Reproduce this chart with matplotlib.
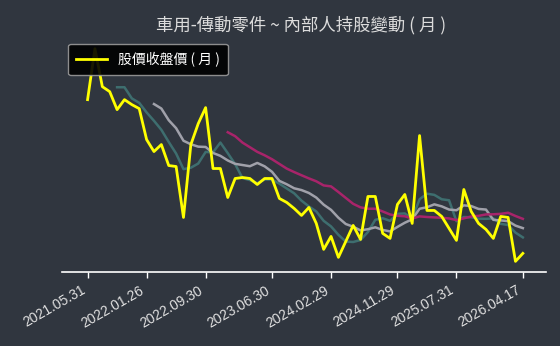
import matplotlib
matplotlib.use("Agg")
import matplotlib.pyplot as plt
import pandas as pd

plt.rcParams['font.family'] = ['Noto Sans CJK TC', 'DejaVu Sans']

title = "車用-傳動零件 ~ 內部人持股變動 ( 月 )"
legend_label = "股價收盤價 ( 月 )"

close = [40.4, 50.6, 43.0, 42.0, 38.4, 40.4, 39.4, 38.6, 32.4, 30.0,
         31.4, 27.2, 27.0, 16.8, 31.4, 35.6, 38.8, 26.6, 26.6, 20.8,
         24.6, 24.8, 24.6, 23.4, 24.6, 24.6, 20.6, 19.8, 18.6, 17.2,
         18.8, 15.6, 10.4, 13.0, 8.8, 12.0, 15.2, 12.4, 21.0, 21.0,
         13.6, 12.6, 19.4, 21.4, 15.6, 33.2, 18.2, 18.2, 17.0, 14.6,
         12.2, 22.4, 18.0, 15.6, 14.4, 12.6, 17.0, 16.8, 8.0, 9.6]

month_ends = pd.date_range("2021-05-31", periods=59, freq="BME").strftime("%Y.%m.%d").tolist()
dates = [("2022.01.26" if d.startswith("2022.01") else d) for d in month_ends] + ["2026.04.17"]

tick_labels = ["2021.05.31", "2022.01.26", "2022.09.30", "2023.06.30",
               "2024.02.29", "2024.11.29", "2025.07.31", "2026.04.17"]

ma_windows = [5, 10, 20]
ma_colors = ["#3e6e6f", "#a0a1aa", "#a8246a"]

bg = "#30363f"
fig = plt.figure(figsize=(5.6, 3.46), dpi=100, facecolor=bg)
ax = fig.add_axes([0.1116, 0.2139, 0.8629, 0.676])
ax.set_facecolor(bg)

s = pd.Series(close)
x = list(range(len(close)))
for w, c in zip(ma_windows, ma_colors):
    ax.plot(x, s.rolling(w).mean(), color=c, lw=1.8, zorder=2)
ax.plot(x, close, color="#ffff00", lw=2.0, zorder=3, label=legend_label)

ax.set_xlim(-3.4, 62.1)
ax.margins(y=0.05)
pos = [dates.index(t) if t in dates else len(dates) - 1 for t in tick_labels]
ax.set_xticks(pos)
ax.set_xticklabels(tick_labels, rotation=30, ha="right",
                   fontsize=10, color="#e0e0e0", family="Liberation Sans")
ax.tick_params(axis="x", colors="#ffffff", length=4, width=1, labelcolor="#e0e0e0", pad=4)
ax.set_yticks([])
for sp in ["left", "right", "top"]:
    ax.spines[sp].set_visible(False)
ax.spines["bottom"].set_color("#ffffff")
ax.spines["bottom"].set_linewidth(1.2)

fig.text(0.537, 0.926, title, ha="center", va="center", fontsize=12.5, color="#dcdcdc")

leg = ax.legend(loc="upper left", fontsize=10, facecolor="#000000", edgecolor="#9a9a9a",
                framealpha=0.9, borderaxespad=0.4, borderpad=0.6, handlelength=2.2)
for t in leg.get_texts():
    t.set_color("#ffffff")

fig.savefig("out.png", dpi=100, facecolor=bg)
